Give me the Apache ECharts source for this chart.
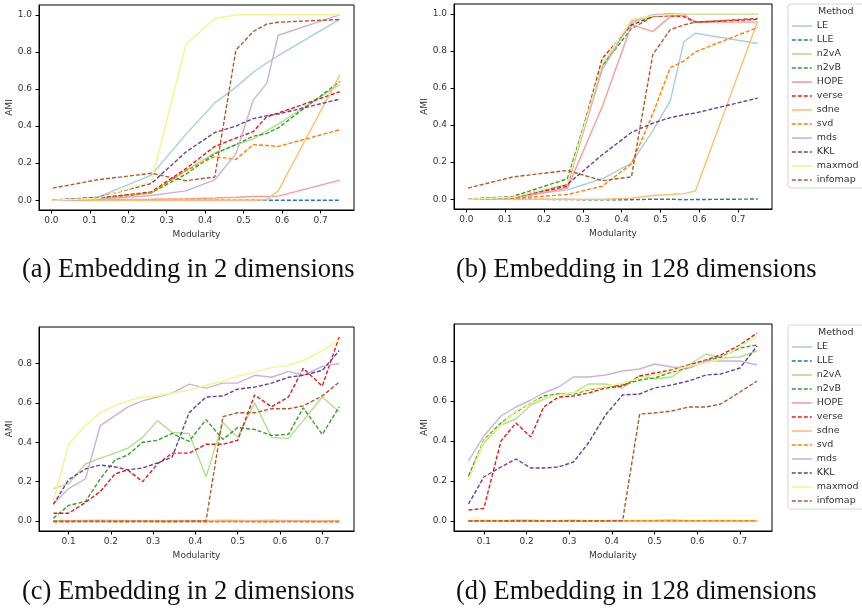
<!DOCTYPE html>
<html>
<head>
<meta charset="utf-8">
<script src="https://cdn.jsdelivr.net/npm/echarts@6/dist/echarts.min.js"></script>
<style>
  html, body { margin: 0; padding: 0; background: #fff; }
  #chart { width: 862px; height: 609px; }
</style>
</head>
<body>
<div id="chart"></div>
<script>
// methods in legend order, odd ones solid, even ones dashed
var methods = ['LE', 'LLE', 'n2vA', 'n2vB', 'HOPE', 'verse', 'sdne', 'svd', 'mds', 'KKL', 'maxmod', 'infomap'];
var colors = ['#a6cee3', '#1f78b4', '#b2df8a', '#33a02c', '#fb9a99', '#e31a1c',
              '#fdbf6f', '#ff7f00', '#cab2d6', '#6a3d9a', '#f7f38c', '#b15928'];

// modularity values (x)
var xTop = [0.004, 0.12, 0.26, 0.35, 0.425, 0.48, 0.525, 0.56, 0.59, 0.75];
var xBottom = [0.064, 0.10, 0.14, 0.175, 0.21, 0.24, 0.275, 0.31, 0.345, 0.385,
               0.425, 0.465, 0.50, 0.54, 0.58, 0.62, 0.655, 0.70, 0.74];

// tick labels
var xTicksTop = [0.0, 0.1, 0.2, 0.3, 0.4, 0.5, 0.6, 0.7];
var xTicksBottom = [0.1, 0.2, 0.3, 0.4, 0.5, 0.6, 0.7];
var yTicksTop = [0.0, 0.2, 0.4, 0.6, 0.8, 1.0];
var yTicksBottom = [0.0, 0.2, 0.4, 0.6, 0.8];

// (a) 2 dimensions
var LE_a      = [0, 0.015, 0.135, 0.355, 0.525, 0.61, 0.69, 0.74, 0.78, 0.975];
var LLE_a     = [0, 0, 0, 0, 0, 0, 0, 0, 0, 0];
var n2vA_a    = [0, 0.01, 0.04, 0.16, 0.255, 0.30, 0.33, 0.375, 0.41, 0.625];
var n2vB_a    = [0, 0.01, 0.04, 0.14, 0.25, 0.30, 0.345, 0.36, 0.39, 0.64];
var HOPE_a    = [0, 0.002, 0.005, 0.008, 0.012, 0.016, 0.02, 0.02, 0.022, 0.108];
var verse_a   = [0, 0.01, 0.045, 0.17, 0.29, 0.335, 0.37, 0.45, 0.47, 0.585];
var sdne_a    = [0, 0, 0, 0, 0, 0, 0, 0.002, 0.05, 0.675];
var svd_a     = [0, 0.005, 0.04, 0.16, 0.235, 0.22, 0.30, 0.295, 0.29, 0.38];
var mds_a     = [0, 0.005, 0.025, 0.05, 0.11, 0.25, 0.54, 0.63, 0.89, 1.0];
var KKL_a     = [0, 0.015, 0.09, 0.26, 0.365, 0.40, 0.44, 0.455, 0.465, 0.545];
var maxmod_a  = [0, 0.01, 0.10, 0.84, 0.98, 1.0, 1.0, 1.0, 1.0, 1.0];
var infomap_a = [0.065, 0.11, 0.145, 0.105, 0.125, 0.81, 0.91, 0.95, 0.96, 0.975];

// (b) 128 dimensions
var LE_b      = [0, 0.01, 0.05, 0.11, 0.195, 0.37, 0.53, 0.85, 0.895, 0.84];
var LLE_b     = [0, 0, -0.002, -0.004, -0.003, 0, 0, -0.003, -0.002, 0.001];
var n2vA_b    = [0, 0.01, 0.075, 0.72, 0.95, 0.99, 1.0, 1.0, 1.0, 1.0];
var n2vB_b    = [0, 0.015, 0.11, 0.72, 0.92, 0.985, 0.995, 1.0, 1.0, 1.0];
var HOPE_b    = [0, 0.005, 0.06, 0.50, 0.94, 0.905, 0.985, 0.995, 0.955, 0.955];
var verse_b   = [0, 0.01, 0.07, 0.76, 0.94, 0.985, 0.99, 0.985, 0.955, 0.97];
var sdne_b    = [0, 0, 0, 0, 0.005, 0.02, 0.025, 0.03, 0.045, 0.96];
var svd_b     = [0, 0.005, 0.025, 0.07, 0.19, 0.46, 0.71, 0.745, 0.795, 0.927];
var mds_b     = [0, 0.01, 0.08, 0.70, 0.96, 0.995, 1.0, 1.0, 1.0, 1.0];
var KKL_b     = [0, 0.01, 0.08, 0.24, 0.36, 0.41, 0.44, 0.455, 0.465, 0.545];
var maxmod_b  = [0, 0.01, 0.085, 0.73, 0.97, 0.99, 0.995, 1.0, 1.0, 1.0];
var infomap_b = [0.06, 0.12, 0.155, 0.10, 0.12, 0.78, 0.915, 0.94, 0.955, 0.975];

// (c) 2 dimensions
var LE_c      = [0.002, 0.001, 0.002, 0.003, 0.002, 0.002, 0.001, 0.002, 0.002, 0.001, 0.002, 0.003, 0.002, 0.002, 0.003, 0.002, 0.001, 0.001, 0.001];
var LLE_c     = [-0.002, -0.002, -0.002, -0.002, -0.002, -0.002, -0.002, -0.002, -0.002, -0.002, -0.002, -0.002, -0.002, -0.002, -0.002, -0.002, -0.002, -0.002, -0.002];
var n2vA_c    = [0.165, 0.19, 0.29, 0.32, 0.345, 0.37, 0.425, 0.51, 0.45, 0.445, 0.225, 0.50, 0.425, 0.60, 0.425, 0.42, 0.51, 0.63, 0.555];
var n2vB_c    = [0.015, 0.08, 0.10, 0.215, 0.31, 0.335, 0.40, 0.41, 0.445, 0.405, 0.515, 0.415, 0.475, 0.465, 0.435, 0.44, 0.575, 0.44, 0.58];
var HOPE_c    = [0.001, 0.002, 0.003, 0.004, 0.003, 0.002, 0.002, 0.001, 0.002, 0.003, 0.002, 0.004, 0.003, 0.002, 0.003, 0.002, 0.002, 0.001, 0.002];
var verse_c   = [0.04, 0.04, 0.095, 0.15, 0.24, 0.26, 0.20, 0.29, 0.345, 0.345, 0.39, 0.39, 0.41, 0.64, 0.58, 0.63, 0.775, 0.685, 0.935];
var sdne_c    = [0, 0, 0.001, 0.002, 0.001, 0, 0, 0.001, 0, 0, 0.001, 0.002, 0.001, 0, 0.001, 0, 0, 0, 0];
var svd_c     = [-0.003, -0.003, -0.002, -0.002, -0.003, -0.003, -0.002, -0.003, -0.003, -0.002, -0.003, -0.002, -0.002, -0.003, -0.003, -0.002, -0.003, -0.003, -0.003];
var mds_c     = [0.087, 0.165, 0.215, 0.485, 0.535, 0.58, 0.61, 0.63, 0.65, 0.695, 0.675, 0.70, 0.70, 0.74, 0.73, 0.76, 0.74, 0.785, 0.80];
var KKL_c     = [0.085, 0.21, 0.265, 0.285, 0.275, 0.26, 0.27, 0.295, 0.325, 0.55, 0.63, 0.635, 0.67, 0.68, 0.70, 0.73, 0.74, 0.765, 0.865];
var maxmod_c  = [0.10, 0.39, 0.485, 0.55, 0.585, 0.61, 0.63, 0.635, 0.65, 0.665, 0.69, 0.71, 0.735, 0.755, 0.78, 0.79, 0.815, 0.865, 0.92];
var infomap_c = [0, 0, 0, 0, 0, 0, 0, 0, 0, 0, 0.002, 0.53, 0.55, 0.55, 0.57, 0.57, 0.585, 0.635, 0.705];

// (d) 128 dimensions
var LE_d      = [0.002, 0.002, 0.001, 0.002, 0.003, 0.002, 0.002, 0.003, 0.002, 0.002, 0.001, 0.002, 0.002, 0.003, 0.002, 0.002, 0.002, 0.001, 0.002];
var LLE_d     = [0.001, 0.001, 0.001, 0.001, 0.001, 0.001, 0.001, 0.001, 0.001, 0.001, 0.001, 0.001, 0.001, 0.001, 0.001, 0.001, 0.001, 0.001, 0.001];
var n2vA_d    = [0.22, 0.39, 0.48, 0.51, 0.58, 0.61, 0.635, 0.64, 0.685, 0.685, 0.665, 0.725, 0.71, 0.72, 0.78, 0.835, 0.815, 0.82, 0.85];
var n2vB_d    = [0.225, 0.405, 0.49, 0.545, 0.59, 0.625, 0.635, 0.635, 0.655, 0.67, 0.68, 0.705, 0.715, 0.745, 0.765, 0.80, 0.82, 0.865, 0.88];
var HOPE_d    = [0.002, 0.003, 0.002, 0.004, 0.003, 0.002, 0.002, 0.003, 0.002, 0.002, 0.003, 0.002, 0.003, 0.004, 0.002, 0.002, 0.003, 0.002, 0.002];
var verse_d   = [0.055, 0.063, 0.40, 0.49, 0.42, 0.57, 0.62, 0.625, 0.64, 0.665, 0.675, 0.725, 0.74, 0.755, 0.78, 0.805, 0.83, 0.88, 0.94];
var sdne_d    = [0.001, 0.001, 0.001, 0.002, 0.001, 0.001, 0.001, 0.001, 0.001, 0.002, 0.001, 0.001, 0.001, 0.002, 0.001, 0.001, 0.001, 0.001, 0.001];
var svd_d     = [0.002, 0.002, 0.002, 0.002, 0.002, 0.002, 0.002, 0.002, 0.002, 0.002, 0.002, 0.002, 0.002, 0.002, 0.002, 0.002, 0.002, 0.002, 0.002];
var mds_d     = [0.30, 0.425, 0.525, 0.57, 0.605, 0.64, 0.67, 0.72, 0.72, 0.73, 0.75, 0.76, 0.785, 0.77, 0.765, 0.80, 0.80, 0.80, 0.78];
var KKL_d     = [0.085, 0.22, 0.27, 0.31, 0.265, 0.265, 0.27, 0.295, 0.39, 0.53, 0.63, 0.635, 0.665, 0.68, 0.70, 0.73, 0.735, 0.765, 0.875];
var maxmod_d  = [0.205, 0.40, 0.48, 0.55, 0.59, 0.615, 0.63, 0.64, 0.66, 0.67, 0.69, 0.715, 0.73, 0.75, 0.775, 0.79, 0.81, 0.875, 0.925];
var infomap_d = [0, 0, 0, 0, 0, 0, 0, 0, 0, 0, 0.002, 0.535, 0.54, 0.55, 0.57, 0.57, 0.585, 0.645, 0.70];

var panels = [
  { x: xTop,    ys: [LE_a, LLE_a, n2vA_a, n2vB_a, HOPE_a, verse_a, sdne_a, svd_a, mds_a, KKL_a, maxmod_a, infomap_a] },
  { x: xTop,    ys: [LE_b, LLE_b, n2vA_b, n2vB_b, HOPE_b, verse_b, sdne_b, svd_b, mds_b, KKL_b, maxmod_b, infomap_b] },
  { x: xBottom, ys: [LE_c, LLE_c, n2vA_c, n2vB_c, HOPE_c, verse_c, sdne_c, svd_c, mds_c, KKL_c, maxmod_c, infomap_c] },
  { x: xBottom, ys: [LE_d, LLE_d, n2vA_d, n2vB_d, HOPE_d, verse_d, sdne_d, svd_d, mds_d, KKL_d, maxmod_d, infomap_d] }
];

var FONT = 'DejaVu Sans';
var grids = [
  { left: 39, top: 5, width: 315, height: 205 },
  { left: 454, top: 4, width: 318, height: 205 },
  { left: 39, top: 327, width: 315, height: 204 },
  { left: 454, top: 324, width: 318, height: 207 }
];
grids.forEach(function (g) {
  g.show = true;
  g.borderColor = '#000';
  g.borderWidth = 1;
  g.containLabel = false;
});

function xAxisFor(i) {
  var top = i < 2;
  var ticks = top ? xTicksTop : xTicksBottom;
  return {
    type: 'value', gridIndex: i,
    min: top ? -0.032 : 0.03, max: top ? 0.787 : 0.775,
    name: 'Modularity', nameLocation: 'middle', nameGap: 20,
    nameTextStyle: { fontFamily: FONT, fontSize: 9, color: '#333' },
    axisLine: { show: true, onZero: false, lineStyle: { color: '#000', width: 1 } },
    axisTick: { show: true, length: 3.5, customValues: ticks, lineStyle: { color: '#000' } },
    axisLabel: { customValues: ticks, margin: 6, fontFamily: FONT, fontSize: 9, color: '#333',
                 formatter: function (v) { return v.toFixed(1); } },
    splitLine: { show: false }
  };
}
function yAxisFor(i) {
  var top = i < 2;
  var ticks = top ? yTicksTop : yTicksBottom;
  return {
    type: 'value', gridIndex: i,
    min: top ? -0.053 : -0.05, max: top ? 1.053 : 0.985,
    name: 'AMI', nameLocation: 'middle', nameGap: 22, nameRotate: 90,
    nameTextStyle: { fontFamily: FONT, fontSize: 9, color: '#333' },
    axisLine: { show: true, onZero: false, lineStyle: { color: '#000', width: 1 } },
    axisTick: { show: true, length: 3.5, customValues: ticks, lineStyle: { color: '#000' } },
    axisLabel: { customValues: ticks, margin: 7, fontFamily: FONT, fontSize: 9, color: '#333',
                 formatter: function (v) { return v.toFixed(1); } },
    splitLine: { show: false }
  };
}

var series = [];
panels.forEach(function (p, pi) {
  methods.forEach(function (m, mi) {
    series.push({
      name: m, type: 'line', xAxisIndex: pi, yAxisIndex: pi,
      data: p.x.map(function (x, k) { return [x, p.ys[mi][k]]; }),
      symbol: 'none', showSymbol: false,
      lineStyle: { color: colors[mi], width: 1.4, type: mi % 2 === 1 ? [4, 2] : 'solid' },
      itemStyle: { color: colors[mi] },
      emphasis: { disabled: true }
    });
  });
});

// legend: line sample only, no symbol dot
function legendAt(top) {
  return {
    data: methods, orient: 'vertical', left: 788, top: top,
    itemWidth: 20, itemHeight: 10, itemGap: 4,
    padding: [17, 6, 3, 3],
    borderColor: '#d6d6d6', borderWidth: 1, borderRadius: 3,
    selectedMode: false,
    itemStyle: { opacity: 0, color: 'rgba(0,0,0,0)', borderWidth: 0 },
    lineStyle: { width: 1.6 },
    textStyle: { fontFamily: FONT, fontSize: 9.5, color: '#333', lineHeight: 10 }
  };
}

function caption(text, x, y) {
  return { type: 'text', left: x, top: y,
           style: { text: text, fontFamily: 'Liberation Serif', fontSize: 26.5, fill: '#111' } };
}
function legendTitle(y) {
  return { type: 'text', left: 818, top: y,
           style: { text: 'Method', fontFamily: FONT, fontSize: 9.5, fill: '#333' } };
}

var chart = echarts.init(document.getElementById('chart'), null, { renderer: 'canvas' });
chart.setOption({
  animation: false,
  backgroundColor: '#fff',
  grid: grids,
  xAxis: [0, 1, 2, 3].map(xAxisFor),
  yAxis: [0, 1, 2, 3].map(yAxisFor),
  legend: [legendAt(4), legendAt(325)],
  graphic: [
    legendTitle(7), legendTitle(328),
    caption('(a) Embedding in 2 dimensions', 22, 257),
    caption('(b) Embedding in 128 dimensions', 456, 257),
    caption('(c) Embedding in 2 dimensions', 22, 579),
    caption('(d) Embedding in 128 dimensions', 456, 579)
  ],
  series: series
});
</script>
</body>
</html>
